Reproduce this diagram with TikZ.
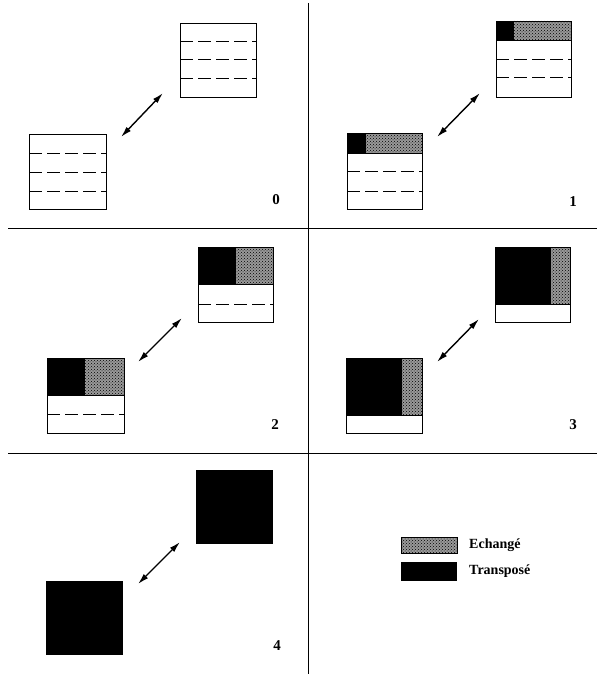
\documentclass[tikz,border=0pt]{standalone}
\usepackage{fontspec}
\setmainfont{Liberation Serif}
\usetikzlibrary{patterns,arrows.meta}

\tikzset{
	blk/.style={draw, line width=0.8pt},
	echange/.style={fill=black!40, postaction={pattern=crosshatch dots, pattern color=black}},
	transpose/.style={fill=black},
	sep/.style={line width=0.8pt, dash pattern=on 13pt off 5pt},
	swap/.style={{Latex[length=11pt,width=6pt]}-{Latex[length=11pt,width=6pt]}, line width=1.4pt},
	steplabel/.style={font=\bfseries\fontsize{15}{15}\selectfont, inner sep=0pt},
	legendtext/.style={font=\bfseries\fontsize{14}{14}\selectfont, anchor=west, inner sep=0pt}
}

\begin{document}
\begin{tikzpicture}[x=1pt, y=-1pt]
		\useasboundingbox (0,0) rectangle (597,674);
		% Grid
		\draw[line width=0.9pt] (8,228) -- (597,228);
		\draw[line width=0.9pt] (8,453) -- (597,453);
		\draw[line width=0.9pt] (308,3) -- (308,674);
		% Step 0
		\draw[blk] (180,23) rectangle (256,97);
		\foreach \y in {41,59,78} \draw[sep] (180,\y) -- (256,\y);
		\draw[blk] (29,134) rectangle (106,209);
		\foreach \y in {153,172,191} \draw[sep] (29,\y) -- (106,\y);
		\coordinate (a0) at (121,137);
		\coordinate (b0) at (163,93);
		\draw[swap] (a0) -- (b0);
		\node[steplabel] (n0) at (276,200) {0};
		% Step 1
		\fill[transpose] (496,21) rectangle (514,40);
		\fill[echange] (514,21) rectangle (571,40);
		\draw[blk] (496,21) rectangle (571,97);
		\draw[line width=0.8pt] (496,40) -- (571,40);
		\foreach \y in {59,77} \draw[sep] (496,\y) -- (571,\y);
		\fill[transpose] (347,133) rectangle (366,153);
		\fill[echange] (366,133) rectangle (422,153);
		\draw[blk] (347,133) rectangle (422,209);
		\draw[line width=0.8pt] (347,153) -- (422,153);
		\foreach \y in {171,191} \draw[sep] (347,\y) -- (422,\y);
		\coordinate (a1) at (437,137);
		\coordinate (b1) at (480,93);
		\draw[swap] (a1) -- (b1);
		\node[steplabel] (n1) at (573,202) {1};
		% Step 2
		\fill[transpose] (198,247) rectangle (236,284);
		\fill[echange] (236,247) rectangle (273,284);
		\draw[blk] (198,247) rectangle (273,322);
		\draw[line width=0.8pt] (198,284) -- (273,284);
		\draw[sep] (198,304) -- (273,304);
		\fill[transpose] (47,358) rectangle (85,395);
		\fill[echange] (85,358) rectangle (124,395);
		\draw[blk] (47,358) rectangle (124,433);
		\draw[line width=0.8pt] (47,395) -- (124,395);
		\draw[sep] (47,414) -- (124,414);
		\coordinate (a2) at (138,362);
		\coordinate (b2) at (182,318);
		\draw[swap] (a2) -- (b2);
		\node[steplabel] (n2) at (275,425) {2};
		% Step 3
		\fill[transpose] (495,247) rectangle (551,304);
		\fill[echange] (551,247) rectangle (570,304);
		\draw[blk] (495,247) rectangle (570,322);
		\draw[line width=0.8pt] (495,304) -- (570,304);
		\fill[transpose] (346,358) rectangle (402,415);
		\fill[echange] (402,358) rectangle (422,415);
		\draw[blk] (346,358) rectangle (422,433);
		\draw[line width=0.8pt] (346,415) -- (422,415);
		\coordinate (a3) at (437,362);
		\coordinate (b3) at (479,319);
		\draw[swap] (a3) -- (b3);
		\node[steplabel] (n3) at (573,425) {3};
		% Step 4
		\fill[transpose] (196,470) rectangle (273,544);
		\fill[transpose] (46,581) rectangle (123,655);
		\coordinate (a4) at (138,584);
		\coordinate (b4) at (180,542);
		\draw[swap] (a4) -- (b4);
		\node[steplabel] (n4) at (277,646) {4};
		% Legend
		\fill[echange] (401,537) rectangle (457,553);
		\draw[line width=0.5pt] (401,537) rectangle (457,553);
		\node[legendtext] (lech) at (469,545) {Echangé};
		\fill[transpose] (401,562) rectangle (457,581);
		\node[legendtext] (ltra) at (469,571) {Transposé};
	\end{tikzpicture}
\end{document}
